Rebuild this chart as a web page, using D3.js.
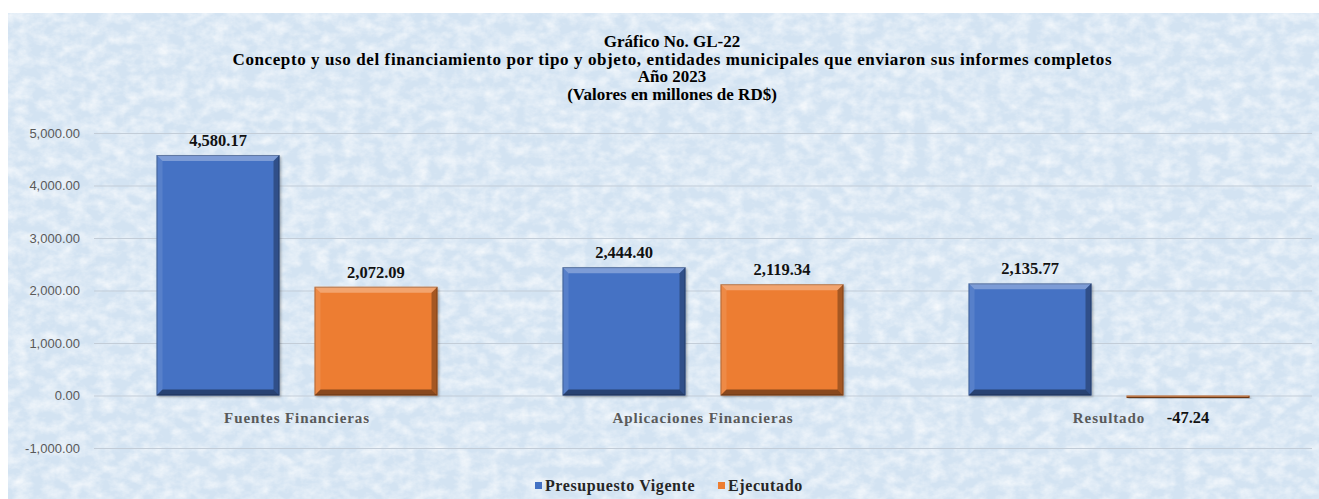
<!DOCTYPE html>
<html>
<head>
<meta charset="utf-8">
<script src="https://cdn.jsdelivr.net/npm/d3@7"></script>
<style>
  html, body { margin: 0; padding: 0; background: #ffffff; }
  svg { display: block; }
</style>
</head>
<body>
<div id="chart"></div>
<script>
// Data
const categories = ["Fuentes Financieras", "Aplicaciones Financieras", "Resultado"];
const seriesNames = ["Presupuesto Vigente", "Ejecutado"];
const presupuesto = [4580.17, 2444.40, 2135.77];
const ejecutado = [2072.09, 2119.34, -47.24];
const yTicks = [-1000, 0, 1000, 2000, 3000, 4000, 5000];
const titleLines = [
	"Gráfico No. GL-22",
	"Concepto y uso del financiamiento por tipo y objeto, entidades municipales que enviaron sus informes completos",
	"Año 2023",
	"(Valores en millones de RD$)"
];

(function () {
	const width = 1319;
	const height = 499;
	const SERIF = "'Liberation Serif', 'Times New Roman', serif";
	const SANS = "'Liberation Sans', Arial, sans-serif";
	const COLORS = ["#4472C4", "#ED7D31"];
	const GREY = "#595959";

	const plot = { left: 94, right: 1312, top: 133, bottom: 448 };
	const fmt = v => d3.format(",.2f")(v).replace("\u2212", "-");

	const svg = d3.select("#chart")
		.append("svg")
		.attr("width", width)
		.attr("height", height);

	const defs = svg.append("defs");

	// mottled paper texture
	const tex = defs.append("filter")
		.attr("id", "tex")
		.attr("x", 0).attr("y", 0)
		.attr("width", "100%").attr("height", "100%");
	tex.append("feTurbulence")
		.attr("type", "fractalNoise")
		.attr("baseFrequency", "0.07 0.09")
		.attr("numOctaves", 4)
		.attr("seed", 11);
	tex.append("feColorMatrix")
		.attr("type", "matrix")
		.attr("values", "0 0 0 0 1  0 0 0 0 1  0 0 0 0 1  1.2 0 0 0 -0.4");

	const shadow = defs.append("filter")
		.attr("id", "shadow")
		.attr("x", "-10%").attr("y", "-10%")
		.attr("width", "125%").attr("height", "125%");
	shadow.append("feDropShadow")
		.attr("dx", 1.5).attr("dy", 1.5)
		.attr("stdDeviation", 1.2)
		.attr("flood-color", "#000")
		.attr("flood-opacity", 0.3);

	// background
	svg.append("rect")
		.attr("x", 8).attr("y", 13)
		.attr("width", width - 8).attr("height", height - 13)
		.attr("fill", "#d3e3f2");
	svg.append("rect")
		.attr("x", 8).attr("y", 13)
		.attr("width", width - 8).attr("height", height - 13)
		.attr("fill", "#fff")
		.attr("filter", "url(#tex)");

	// Title
	svg.append("g")
		.selectAll("text")
		.data(titleLines)
		.join("text")
		.attr("x", 672)
		.attr("y", (d, i) => 47 + i * 17.5)
		.attr("text-anchor", "middle")
		.attr("textLength", (d, i) => i === 1 ? 879 : null)
		.attr("lengthAdjust", "spacing")
		.style("font-family", SERIF)
		.style("font-size", "17px")
		.style("font-weight", 700)
		.style("fill", "#000")
		.text(d => d);

	// Scales
	const x0 = d3.scaleBand().domain(categories).range([plot.left, plot.right]);
	const x1 = d3.scaleBand().domain(seriesNames).range([0, x0.bandwidth()])
		.paddingInner(0.2215).paddingOuter(0.3956);
	const y = d3.scaleLinear().domain([-1000, 5000]).range([plot.bottom, plot.top]);

	// Gridlines
	svg.append("g")
		.attr("transform", `translate(${plot.left},0)`)
		.call(d3.axisLeft(y).tickValues(yTicks).tickSize(-(plot.right - plot.left)).tickFormat(""))
		.call(g => g.select(".domain").remove())
		.selectAll("line")
		.attr("stroke", "#c3cdd8")
		.attr("stroke-width", 1);

	// Y tick labels
	svg.append("g")
		.attr("transform", `translate(80,0)`)
		.call(d3.axisLeft(y).tickValues(yTicks).tickSize(0).tickPadding(0).tickFormat(fmt))
		.call(g => g.select(".domain").remove())
		.selectAll("text")
		.style("font-family", SANS)
		.style("font-size", "13px")
		.style("fill", GREY);

	// Category labels
	svg.append("g")
		.attr("transform", `translate(0,${y(0)})`)
		.call(d3.axisBottom(x0).tickSize(0).tickPadding(17))
		.call(g => g.select(".domain").remove())
		.selectAll("text")
		.style("font-family", SERIF)
		.style("font-size", "15px")
		.style("font-weight", 700)
		.style("letter-spacing", "0.9px")
		.style("fill", GREY);

	const rows = categories.map((c, i) => ({
		cat: c,
		vals: [
			{ key: seriesNames[0], v: presupuesto[i], color: COLORS[0] },
			{ key: seriesNames[1], v: ejecutado[i], color: COLORS[1] }
		]
	}));

	const groups = svg.append("g")
		.selectAll("g.cat")
		.data(rows)
		.join("g")
		.attr("class", "cat")
		.attr("transform", d => `translate(${x0(d.cat)},0)`);

	const bars = groups.selectAll("g.bar")
		.data(d => d.vals)
		.join("g")
		.attr("class", "bar");

	bars.each(function (d) {
		const g = d3.select(this);
		const bx = x1(d.key);
		const bw = x1.bandwidth();
		const top = Math.min(y(d.v), y(0));
		const bh = Math.max(2, Math.abs(y(d.v) - y(0)));
		const b = Math.min(6, bh / 2, bw / 2);

		g.append("rect")
			.attr("x", bx).attr("y", top)
			.attr("width", bw).attr("height", bh)
			.attr("fill", d.color)
			.attr("filter", "url(#shadow)");

		const L = bx, R = bx + bw, T = top, B = top + bh;
		const poly = (pts, fill, op) => g.append("polygon")
			.attr("points", pts.map(p => p.join(",")).join(" "))
			.attr("fill", fill)
			.attr("fill-opacity", op);

		poly([[L, T], [R, T], [R - b, T + b], [L + b, T + b]], "#fff", 0.3);
		poly([[L, T], [L + b, T + b], [L + b, B - b], [L, B]], "#fff", 0.1);
		poly([[R, T], [R, B], [R - b, B - b], [R - b, T + b]], "#000", 0.3);
		poly([[L, B], [R, B], [R - b, B - b], [L + b, B - b]], "#000", 0.42);

		g.append("rect")
			.attr("x", L + 0.5).attr("y", T + 0.5)
			.attr("width", bw - 1).attr("height", Math.max(0, bh - 1))
			.attr("fill", "none")
			.attr("stroke", "#000")
			.attr("stroke-opacity", 0.25);

		// value label
		g.append("text")
			.attr("x", bx + bw / 2)
			.attr("y", d.v >= 0 ? y(d.v) - 9 : B + 25)
			.attr("text-anchor", "middle")
			.style("font-family", SERIF)
			.style("font-size", "16.5px")
			.style("font-weight", 700)
			.style("fill", "#111")
			.text(fmt(d.v));
	});

	// Legend
	const legendPos = [535, 718];
	const legend = svg.append("g")
		.selectAll("g")
		.data(seriesNames)
		.join("g")
		.attr("transform", (d, i) => `translate(${legendPos[i]},486)`);
	legend.append("rect")
		.attr("x", 0).attr("y", -4)
		.attr("width", 7).attr("height", 7)
		.attr("fill", (d, i) => COLORS[i]);
	legend.append("text")
		.attr("x", 10)
		.attr("y", 5)
		.style("font-family", SERIF)
		.style("font-size", "16px")
		.style("font-weight", 700)
		.style("letter-spacing", "0.6px")
		.style("fill", "#262626")
		.text(d => d);
})();
</script>
</body>
</html>
